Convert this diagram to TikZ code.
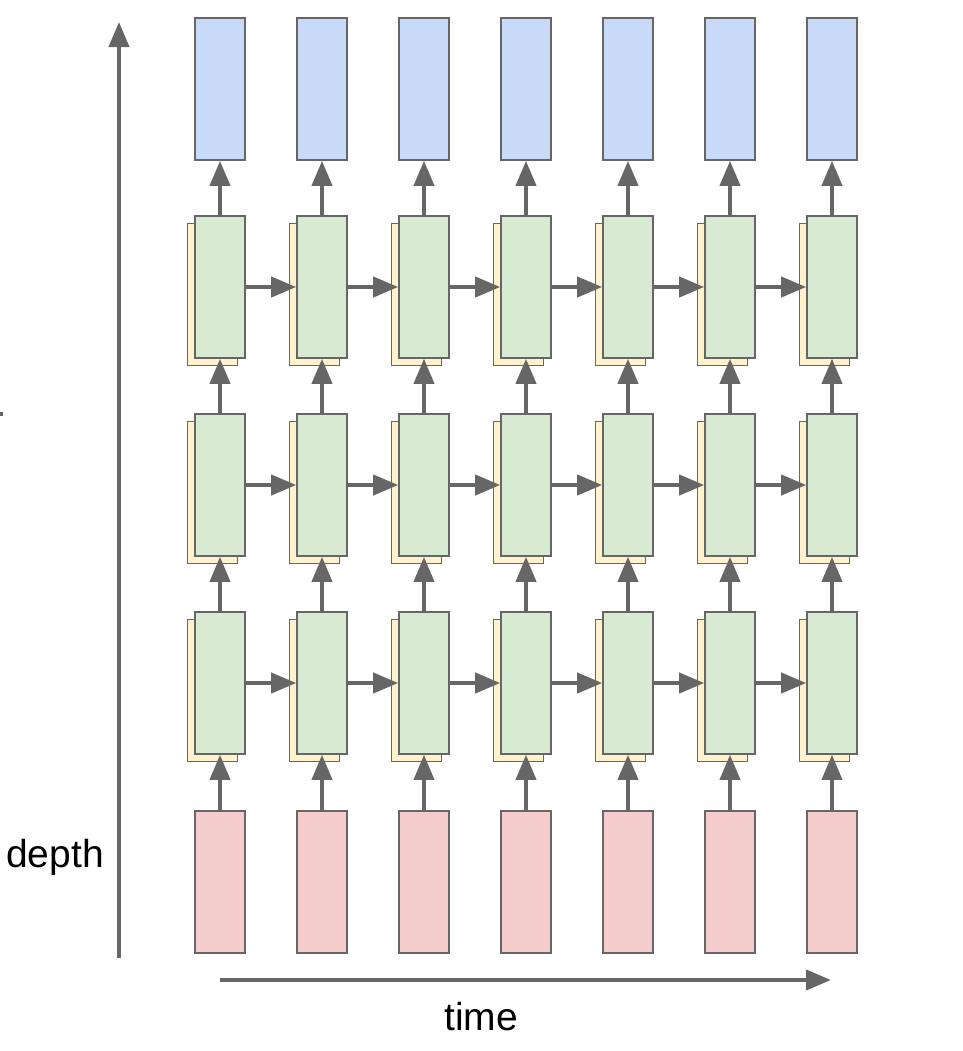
\documentclass[tikz,border=0pt]{standalone}
\usepackage{fontspec}
\setmainfont{Liberation Sans}
\usetikzlibrary{arrows.meta}
\definecolor{edgegray}{HTML}{666666}
\definecolor{outblue}{HTML}{C9DAF8}
\definecolor{hidgreen}{HTML}{D9EAD3}
\definecolor{backyellow}{HTML}{FFF2CC}
\definecolor{inred}{HTML}{F4CCCC}
\begin{document}
\begin{tikzpicture}[x=0.5pt,y=-0.5pt,
  cell/.style={draw=edgegray, line width=0.8pt, minimum width=25pt, minimum height=71pt, inner sep=0pt},
  outcell/.style={cell, fill=outblue},
  hidcell/.style={cell, fill=hidgreen},
  backcell/.style={cell, fill=backyellow},
  incell/.style={cell, fill=inred},
  conn/.style={draw=edgegray, line width=2pt, -{Triangle[length=12.5pt,width=10pt]}},
  lbl/.style={font=\fontsize{19.5pt}{23pt}\selectfont, text=black, inner sep=0pt}
]
\useasboundingbox (0,0) rectangle (963,1051);
\fill[edgegray] (0,412) rectangle (3,416);
% axes
\coordinate (dstart) at (119,958);
\coordinate (dend) at (119,22);
\coordinate (tstart) at (220,980);
\coordinate (tend) at (831,980);
\draw[conn] (dstart) -- (dend);
\draw[conn] (tstart) -- (tend);
\node[lbl] (depth) at (55,857) {depth};
\node[lbl] (time) at (481,1017) {time};
% cells
\foreach \i in {0,...,6} {
  \pgfmathsetmacro{\cx}{220+102*\i}
  \node[outcell] (o\i) at (\cx,89) {};
  \node[incell] (r\i) at (\cx,882) {};
  \foreach \l/\cy in {1/683,2/485,3/287} {
    \node[backcell] (b\l\i) at (\cx-7.5,\cy+7.5) {};
    \node[hidcell] (g\l\i) at (\cx,\cy) {};
  }
}
% vertical connectors
\foreach \i in {0,...,6} {
  \draw[conn] (r\i.north) -- (g1\i.south);
  \draw[conn] (g1\i.north) -- (g2\i.south);
  \draw[conn] (g2\i.north) -- (g3\i.south);
  \draw[conn] (g3\i.north) -- (o\i.south);
}
% horizontal connectors
\foreach \l in {1,2,3} {
  \foreach \i [evaluate=\i as \j using int(\i+1)] in {0,...,5} {
    \draw[conn] (g\l\i.east) -- (g\l\j.west);
  }
}
\end{tikzpicture}
\end{document}
